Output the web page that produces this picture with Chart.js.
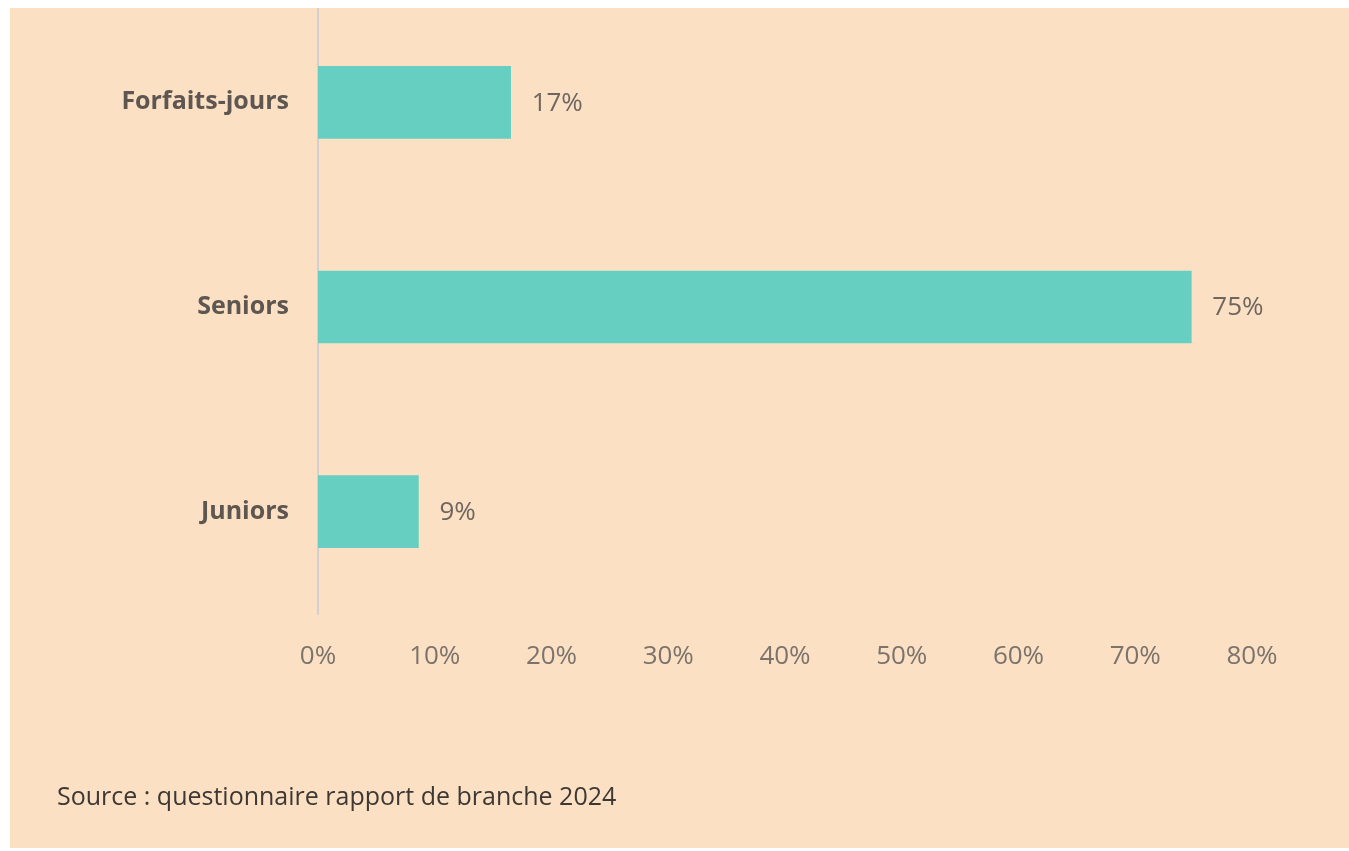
<!DOCTYPE html>
<html><head><meta charset="utf-8">
<script src="https://cdn.jsdelivr.net/npm/chart.js@4"></script>
<style>html,body{margin:0;padding:0;background:#fff;overflow:hidden}canvas{display:block}</style>
</head><body>
<canvas id="c" width="1349" height="851" style="width:1349px;height:851px"></canvas>
<script>
const categories = ['Forfaits-jours', 'Seniors', 'Juniors'];
const values = [16.5, 74.8, 8.6];
const valueLabels = ['17%', '75%', '9%'];
const xTickValues = [0, 10, 20, 30, 40, 50, 60, 70, 80];
const sourceText = 'Source : questionnaire rapport de branche 2024';

const PEACH = '#fbe0c4';
const FONT = "'Open Sans', 'Noto Sans', sans-serif";

const bgPlugin = {
  id: 'bg',
  beforeDraw(chart) {
    const ctx = chart.ctx;
    ctx.save();
    ctx.fillStyle = '#ffffff';
    ctx.fillRect(0, 0, chart.width, chart.height);
    ctx.fillStyle = PEACH;
    ctx.fillRect(10, 8, chart.width - 10, 840);
    ctx.restore();
  },
  afterDraw(chart) {
    const ctx = chart.ctx;
    ctx.save();
    ctx.fillStyle = '#ffffff';
    ctx.fillRect(0, 0, chart.width, 8);
    ctx.fillStyle = '#3d3833';
    ctx.font = "25px " + FONT;
    ctx.textAlign = 'left';
    ctx.textBaseline = 'alphabetic';
    ctx.fillText(sourceText, 57, 805);
    ctx.restore();
  }
};

const valueLabelPlugin = {
  id: 'valueLabels',
  afterDatasetsDraw(chart) {
    const ctx = chart.ctx;
    const meta = chart.getDatasetMeta(0);
    ctx.save();
    ctx.fillStyle = '#6e665f';
    ctx.font = "26px " + FONT;
    ctx.textAlign = 'left';
    ctx.textBaseline = 'middle';
    meta.data.forEach((bar, i) => {
      ctx.fillText(valueLabels[i], bar.x + 21, bar.y + 1);
    });
    ctx.restore();
  }
};

new Chart(document.getElementById('c'), {
  type: 'bar',
  data: {
    labels: categories,
    datasets: [{
      data: values,
      backgroundColor: '#66cfc2',
      borderWidth: 0,
      barThickness: 72
    }]
  },
  options: {
    indexAxis: 'y',
    responsive: false,
    animation: false,
    events: [],
    layout: { padding: { top: 0, right: 97, bottom: 0, left: 0 } },
    plugins: { legend: { display: false }, tooltip: { enabled: false } },
    scales: {
      x: {
        min: 0, max: 80,
        afterBuildTicks(scale) { scale.ticks = xTickValues.map(v => ({ value: v })); },
        afterFit(scale) { scale.height = 237; },
        grid: { display: false, drawTicks: false },
        border: { display: false },
        ticks: {
          padding: 27,
          color: '#7b736c',
          font: { family: FONT, size: 26 },
          callback: v => v + '%'
        }
      },
      y: {
        afterFit(scale) { scale.width = 318; scale.paddingTop = 0; scale.paddingBottom = 0; },
        grid: { display: false, drawTicks: false },
        border: { display: true, color: '#d3d0cf', width: 2 },
        ticks: {
          padding: 29,
          color: '#5d5651',
          font: { family: FONT, size: 25, weight: 'bold' }
        }
      }
    }
  },
  plugins: [bgPlugin, valueLabelPlugin]
});
</script>
</body></html>
